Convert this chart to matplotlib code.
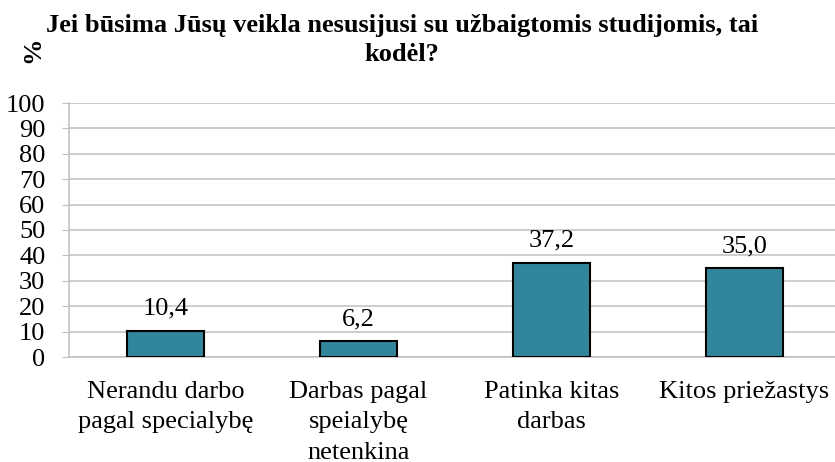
import matplotlib

matplotlib.use("Agg")
import matplotlib.pyplot as plt
import numpy as np

categories = [
    "Nerandu darbo\npagal specialybę",
    "Darbas pagal\nspeialybę\nnetenkina",
    "Patinka kitas\ndarbas",
    "Kitos priežastys",
]
values = [10.4, 6.2, 37.2, 35.0]
yticks = list(range(0, 101, 10))
title = "Jei būsima Jūsų veikla nesusijusi su užbaigtomis studijomis, tai\nkodėl?"

plt.rcParams["font.family"] = ["Liberation Serif", "DejaVu Serif"]

BAR = "#31869b"
GRID = "#c0c0c0"
FS = 19

fig = plt.figure(figsize=(8.35, 4.62), dpi=100)
ax = fig.add_axes([69 / 835, 1 - 357 / 462, 772 / 835, 254 / 462])

x = np.arange(len(categories))
ax.bar(x, values, width=0.4, color=BAR, edgecolor="black", linewidth=1.5, zorder=3)
for xi, v in zip(x, values):
    ax.annotate(f"{v:.1f}".replace(".", ","), (xi, v), xytext=(0, 8),
                textcoords="offset points", ha="center", va="bottom", fontsize=FS)

ax.set_xlim(-0.5, len(categories) - 0.5)
ax.set_ylim(0, 100)
ax.set_yticks(yticks)
ax.set_yticklabels([str(t) for t in yticks], fontsize=FS)
ax.set_xticks(x)
ax.set_xticklabels(categories, fontsize=FS, linespacing=1.5)
ax.tick_params(axis="x", length=0, pad=17)
ax.tick_params(axis="y", length=5, color=GRID, pad=12)
ax.yaxis.grid(True, color=GRID, linewidth=1.1, zorder=0)
for s in ("top", "right"):
    ax.spines[s].set_visible(False)
for s in ("left", "bottom"):
    ax.spines[s].set_color(GRID)
    ax.spines[s].set_linewidth(1.1)
ax.set_axisbelow(True)

fig.text(402 / 835, 1 - 14 / 462, title, ha="center", va="top",
         fontsize=FS, fontweight="bold", linespacing=1.35)
fig.text(33 / 835, 1 - 50 / 462, "%", rotation=90, ha="center", va="center",
         fontsize=FS, fontweight="bold")

fig.savefig("out.png", dpi=100)
